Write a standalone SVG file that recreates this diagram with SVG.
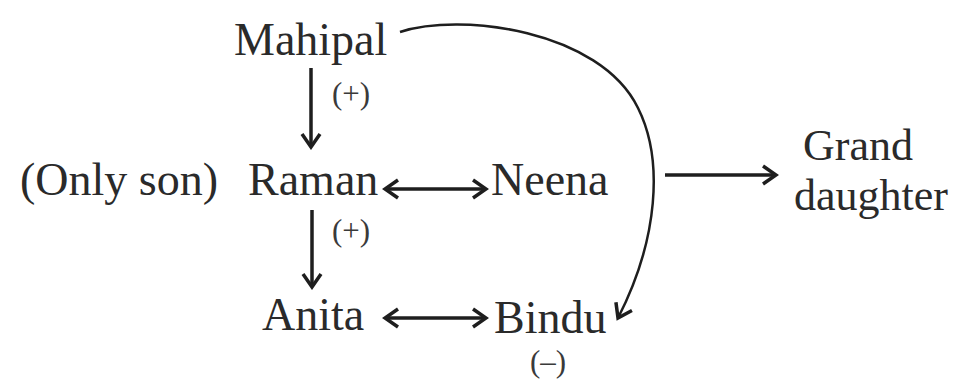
<svg xmlns="http://www.w3.org/2000/svg" width="972" height="381" viewBox="0 0 972 381">
<style>
.t{font-family:"Liberation Serif","Times New Roman","DejaVu Serif",serif;font-size:46px;fill:#2a2a2a}
.g{font-size:44px}
.s{font-family:"Liberation Serif","Times New Roman","DejaVu Serif",serif;font-size:31px;fill:#3a3a3a}
.ln{stroke:#1e1e1e;stroke-width:3.5;fill:none}
.cv{stroke:#1e1e1e;stroke-width:2.5;fill:none}
</style>
<defs>
<marker id="ah" viewBox="0 0 22 22" refX="19" refY="11" markerWidth="22" markerHeight="22" markerUnits="userSpaceOnUse" orient="auto-start-reverse">
<path d="M6 2 L19 11 L6 20" fill="none" stroke="#1e1e1e" stroke-width="3.5" stroke-linejoin="miter"/>
</marker>
</defs>
<rect width="972" height="381" fill="#fff"/>
<g id="mahipal"><text class="t" x="234" y="55">Mahipal</text></g>
<g id="onlyson"><text class="t" x="20" y="195">(Only son)</text></g>
<g id="raman"><text class="t" x="248" y="195">Raman</text></g>
<g id="neena"><text class="t" x="491" y="195">Neena</text></g>
<g id="granddaughter"><text class="t g" x="858" y="160" text-anchor="middle">Grand</text><text class="t g" x="871" y="210" text-anchor="middle">daughter</text></g>
<g id="anita"><text class="t" x="262" y="330">Anita</text></g>
<g id="bindu"><text class="t" x="494" y="333">Bindu</text><text class="s" x="548" y="372" text-anchor="middle">(–)</text></g>
<g id="connectors">
<line class="ln" x1="311" y1="68" x2="311" y2="147" marker-end="url(#ah)"/>
<text class="s" x="351" y="104" text-anchor="middle">(+)</text>
<line class="ln" x1="312" y1="210" x2="312" y2="287" marker-end="url(#ah)"/>
<text class="s" x="351" y="241" text-anchor="middle">(+)</text>
<line class="ln" x1="385" y1="189" x2="486" y2="189" marker-start="url(#ah)" marker-end="url(#ah)"/>
<line class="ln" x1="385" y1="318" x2="486" y2="318" marker-start="url(#ah)" marker-end="url(#ah)"/>
<line class="ln" x1="665" y1="175" x2="776" y2="175" marker-end="url(#ah)"/>
<path class="cv" d="M400 32 C460 12,600 30,638 108 C664 160,658 240,618 318" marker-end="url(#ah)"/>
</g>
</svg>
